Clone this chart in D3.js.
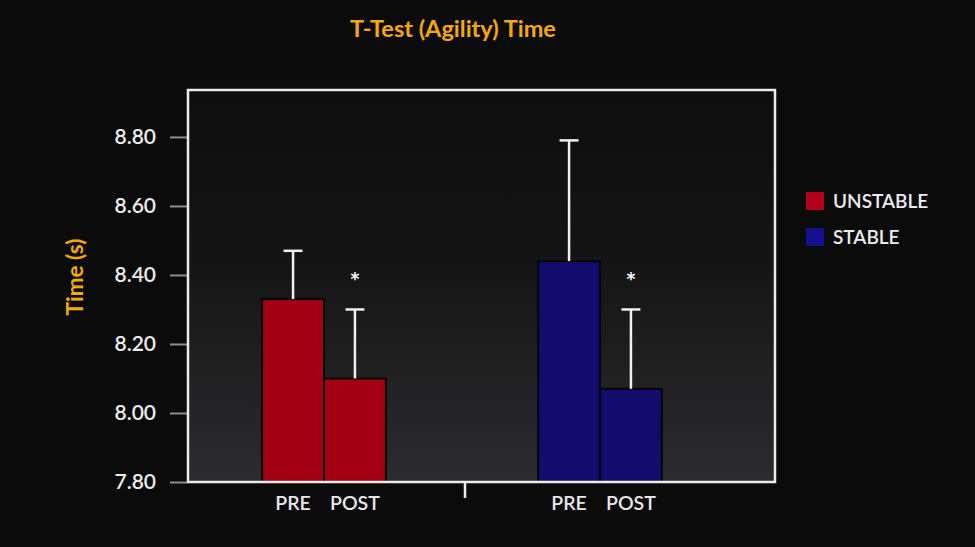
<!DOCTYPE html>
<html>
<head>
<meta charset="utf-8">
<script src="https://cdn.jsdelivr.net/npm/d3@7"></script>
<style>
  html, body { margin: 0; padding: 0; background: #0c0b0c; }
  svg { display: block; font-family: Lato, "Open Sans", sans-serif; }
</style>
</head>
<body>
<div id="chart"></div>
<script>
// ---- data ----
const groups = ["UNSTABLE", "STABLE"];
const phases = ["PRE", "POST"];
const unstableMeans = [8.33, 8.10];
const unstableErrors = [0.14, 0.20];
const stableMeans = [8.44, 8.07];
const stableErrors = [0.35, 0.23];
const significant = [false, true];   // asterisk over POST
const yTicks = [7.80, 8.00, 8.20, 8.40, 8.60, 8.80];
const groupColors = ["#a30016", "#130b6e"];
const legendColors = ["#b3001b", "#16108c"];

const width = 975, height = 547;
const plot = { left: 188, right: 775, top: 90, bottom: 482 };

const rows = groups.flatMap((g, gi) => phases.map((p, pi) => ({
  group: g, phase: p, gi, pi,
  mean: gi === 0 ? unstableMeans[pi] : stableMeans[pi],
  err: gi === 0 ? unstableErrors[pi] : stableErrors[pi],
  sig: significant[pi]
})));

const svg = d3.select("#chart").append("svg")
  .attr("width", width)
  .attr("height", height)
  .attr("viewBox", `0 0 ${width} ${height}`);

// background gradient inside the frame
const defs = svg.append("defs");
const grad = defs.append("linearGradient")
  .attr("id", "plotBg").attr("x1", 0).attr("y1", 0).attr("x2", 0).attr("y2", 1);
grad.append("stop").attr("offset", "0%").attr("stop-color", "#0e0e0f");
grad.append("stop").attr("offset", "45%").attr("stop-color", "#151516");
grad.append("stop").attr("offset", "100%").attr("stop-color", "#2c2c2e");

svg.append("rect").attr("width", width).attr("height", height).attr("fill", "#0c0b0c");

svg.append("rect")
  .attr("x", plot.left).attr("y", plot.top)
  .attr("width", plot.right - plot.left).attr("height", plot.bottom - plot.top)
  .attr("fill", "url(#plotBg)");

// scales
const y = d3.scaleLinear().domain([7.80, 8.936]).range([plot.bottom, plot.top]);
const xGroup = d3.scaleBand().domain(groups).range([186, 738]).padding(0);
const xPhase = d3.scaleBand().domain(phases).range([0, xGroup.bandwidth()])
  .paddingInner(0).paddingOuter(1.23);

// y axis (ticks outward, gray)
const yAxis = svg.append("g")
  .attr("transform", `translate(${plot.left},0)`)
  .call(d3.axisLeft(y).tickValues(yTicks).tickFormat(d3.format(".2f")).tickSize(18).tickPadding(14));
yAxis.select(".domain").remove();
yAxis.selectAll(".tick line").attr("stroke", "#8c8c8c").attr("stroke-width", 2);
yAxis.selectAll(".tick text")
  .attr("fill", "#ececec").attr("font-size", 21).attr("font-weight", 600)
  .attr("font-family", "Lato, sans-serif");

// bars
const bars = svg.append("g");
bars.selectAll("rect")
  .data(rows)
  .join("rect")
  .attr("x", d => xGroup(d.group) + xPhase(d.phase))
  .attr("y", d => y(d.mean))
  .attr("width", xPhase.bandwidth())
  .attr("height", d => y(7.80) - y(d.mean))
  .attr("fill", d => groupColors[d.gi])
  .attr("stroke", "#050505")
  .attr("stroke-width", 2);

// error bars (upper only)
const cx = d => xGroup(d.group) + xPhase(d.phase) + xPhase.bandwidth() / 2;
const eb = svg.append("g").attr("stroke", "#f0f0f0").attr("stroke-width", 2.5);
eb.selectAll("line.v")
  .data(rows).join("line").attr("class", "v")
  .attr("x1", cx).attr("x2", cx)
  .attr("y1", d => y(d.mean)).attr("y2", d => y(d.mean + d.err));
eb.selectAll("line.c")
  .data(rows).join("line").attr("class", "c")
  .attr("x1", d => cx(d) - 9.5).attr("x2", d => cx(d) + 9.5)
  .attr("y1", d => y(d.mean + d.err)).attr("y2", d => y(d.mean + d.err));

// significance asterisks
svg.append("g").selectAll("text")
  .data(rows.filter(d => d.sig))
  .join("text")
  .attr("x", cx)
  .attr("y", d => y(d.mean + d.err) - 24)
  .attr("text-anchor", "middle")
  .attr("fill", "#ffffff")
  .attr("font-size", 17)
  .attr("font-weight", 700)
  .attr("font-family", "DejaVu Sans, sans-serif")
  .text("*");

// frame
svg.append("rect")
  .attr("x", plot.left).attr("y", plot.top)
  .attr("width", plot.right - plot.left).attr("height", plot.bottom - plot.top)
  .attr("fill", "none").attr("stroke", "#ececec").attr("stroke-width", 2.5);

// group separator tick
svg.append("line")
  .attr("x1", xGroup("STABLE") + 3).attr("x2", xGroup("STABLE") + 3)
  .attr("y1", plot.bottom).attr("y2", plot.bottom + 16)
  .attr("stroke", "#ececec").attr("stroke-width", 2.5);

// x labels
svg.append("g").selectAll("text")
  .data(rows)
  .join("text")
  .attr("x", cx)
  .attr("y", plot.bottom + 28)
  .attr("text-anchor", "middle")
  .attr("fill", "#e8e8e8")
  .attr("font-size", 19.5)
  .attr("font-weight", 600)
  .text(d => d.phase);

// title
svg.append("text")
  .attr("x", 453).attr("y", 37)
  .attr("text-anchor", "middle")
  .attr("fill", "#f3a80c")
  .attr("font-size", 23.5)
  .attr("font-weight", 700)
  .text("T-Test (Agility) Time");

// y label
svg.append("text")
  .attr("transform", `translate(83,${(plot.top + plot.bottom) / 2 - 9}) rotate(-90)`)
  .attr("text-anchor", "middle")
  .attr("fill", "#f3a80c")
  .attr("font-size", 22.5)
  .attr("font-weight", 700)
  .text("Time (s)");

// legend
const legend = svg.append("g").attr("transform", "translate(806,192)");
const li = legend.selectAll("g")
  .data(groups)
  .join("g")
  .attr("transform", (d, i) => `translate(0,${i * 36})`);
li.append("rect")
  .attr("width", 18).attr("height", 18)
  .attr("fill", (d, i) => legendColors[i]);
li.append("text")
  .attr("x", 27).attr("y", 9)
  .attr("dy", "0.35em")
  .attr("fill", "#ececec")
  .attr("font-size", 19)
  .attr("font-weight", 600)
  .text(d => d);
</script>
</body>
</html>
